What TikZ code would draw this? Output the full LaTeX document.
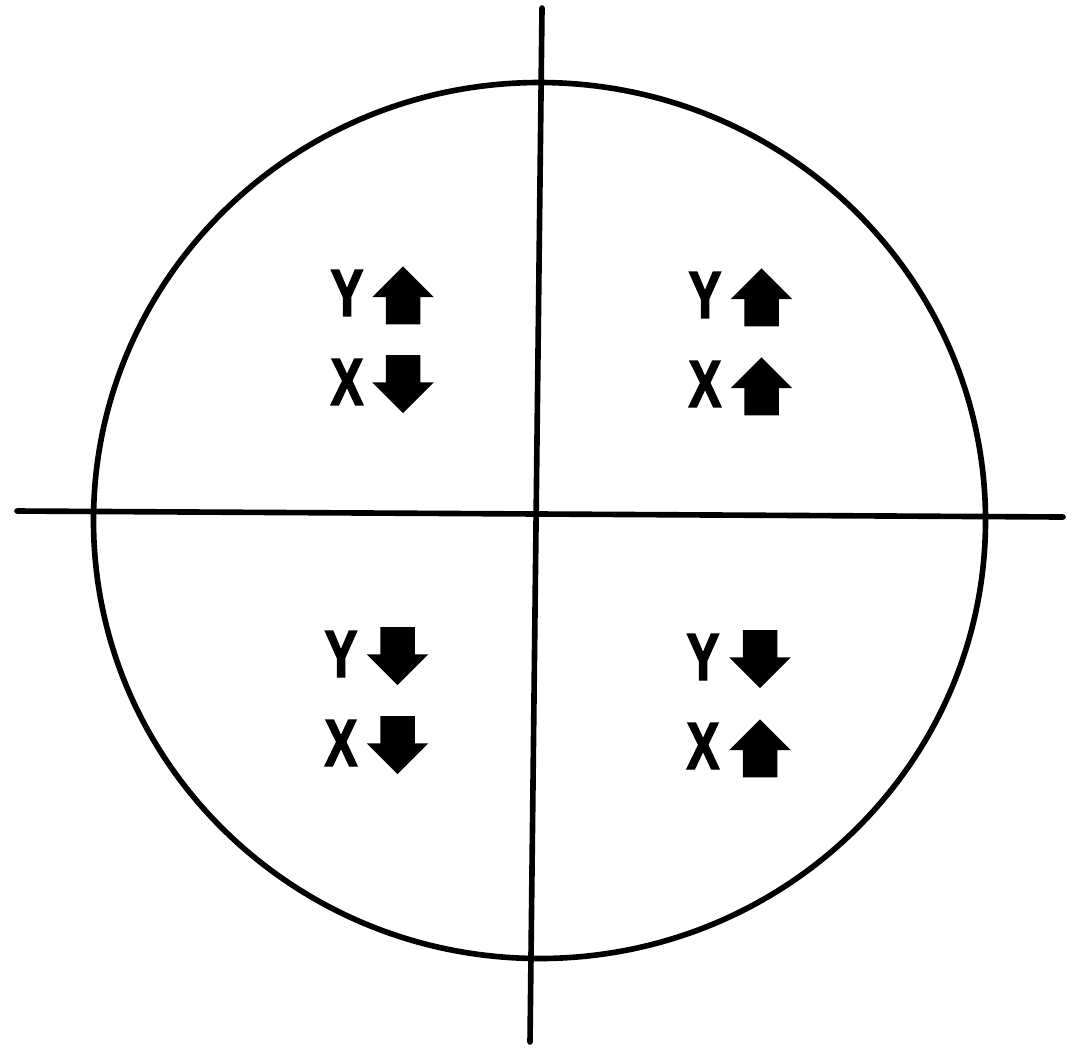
\documentclass[tikz,border=0pt]{standalone}
\usepackage{fontspec}
\usepackage{tikz}
\usetikzlibrary{positioning, shapes.arrows}
\newfontfamily\lblfont[FakeStretch=0.74, FakeBold=2]{Liberation Sans}

\begin{document}
\begin{tikzpicture}[
  x=0.01cm, y=0.01cm,
  axis/.style={line width=1.6pt, line cap=round},
  lbl/.style={inner sep=0pt, outer sep=0pt,
              font=\lblfont\bfseries\fontsize{19}{19}\selectfont},
  blk/.style={single arrow, fill=black, draw=none, inner sep=1.65mm, outer sep=0pt,
              minimum height=5.8mm, minimum width=6mm, single arrow head extend=1.35mm,
              on grid},
  uar/.style={blk, shape border rotate=90, yshift=-1.1mm},
  dar/.style={blk, shape border rotate=270, yshift=0.65mm}
]
\useasboundingbox (0,0) rectangle (1080,1056);

% --- circle and axes ---
\draw[axis] (539.5,535.5) ellipse [x radius=446, y radius=438];
\coordinate (hl) at (17,545);
\coordinate (hr) at (1063,539);
\coordinate (vt) at (542,1048);
\coordinate (vb) at (530,14);
\draw[axis] (hl) -- (hr);
\draw[axis] (vt) -- (vb);

% --- upper left ---
\node[lbl] (tly) at (347,763) {Y};
\node[lbl, below=4.3mm of tly] (tlx) {X};
\node[uar, right=5.6mm of tly] (tlya) {};
\node[dar, right=5.6mm of tlx] (tlxa) {};

% --- upper right ---
\node[lbl] (try) at (705,761) {Y};
\node[lbl, below=4.3mm of try] (trx) {X};
\node[uar, right=5.65mm of try] (trya) {};
\node[uar, right=5.65mm of trx] (trxa) {};

% --- lower left ---
\node[lbl] (bly) at (341,402) {Y};
\node[lbl, below=4.3mm of bly] (blx) {X};
\node[dar, right=5.65mm of bly] (blya) {};
\node[dar, right=5.65mm of blx] (blxa) {};

% --- lower right ---
\node[lbl] (bry) at (703,399) {Y};
\node[lbl, below=4.3mm of bry] (brx) {X};
\node[dar, right=5.7mm of bry] (brya) {};
\node[uar, right=5.7mm of brx] (brxa) {};
\end{tikzpicture}
\end{document}
